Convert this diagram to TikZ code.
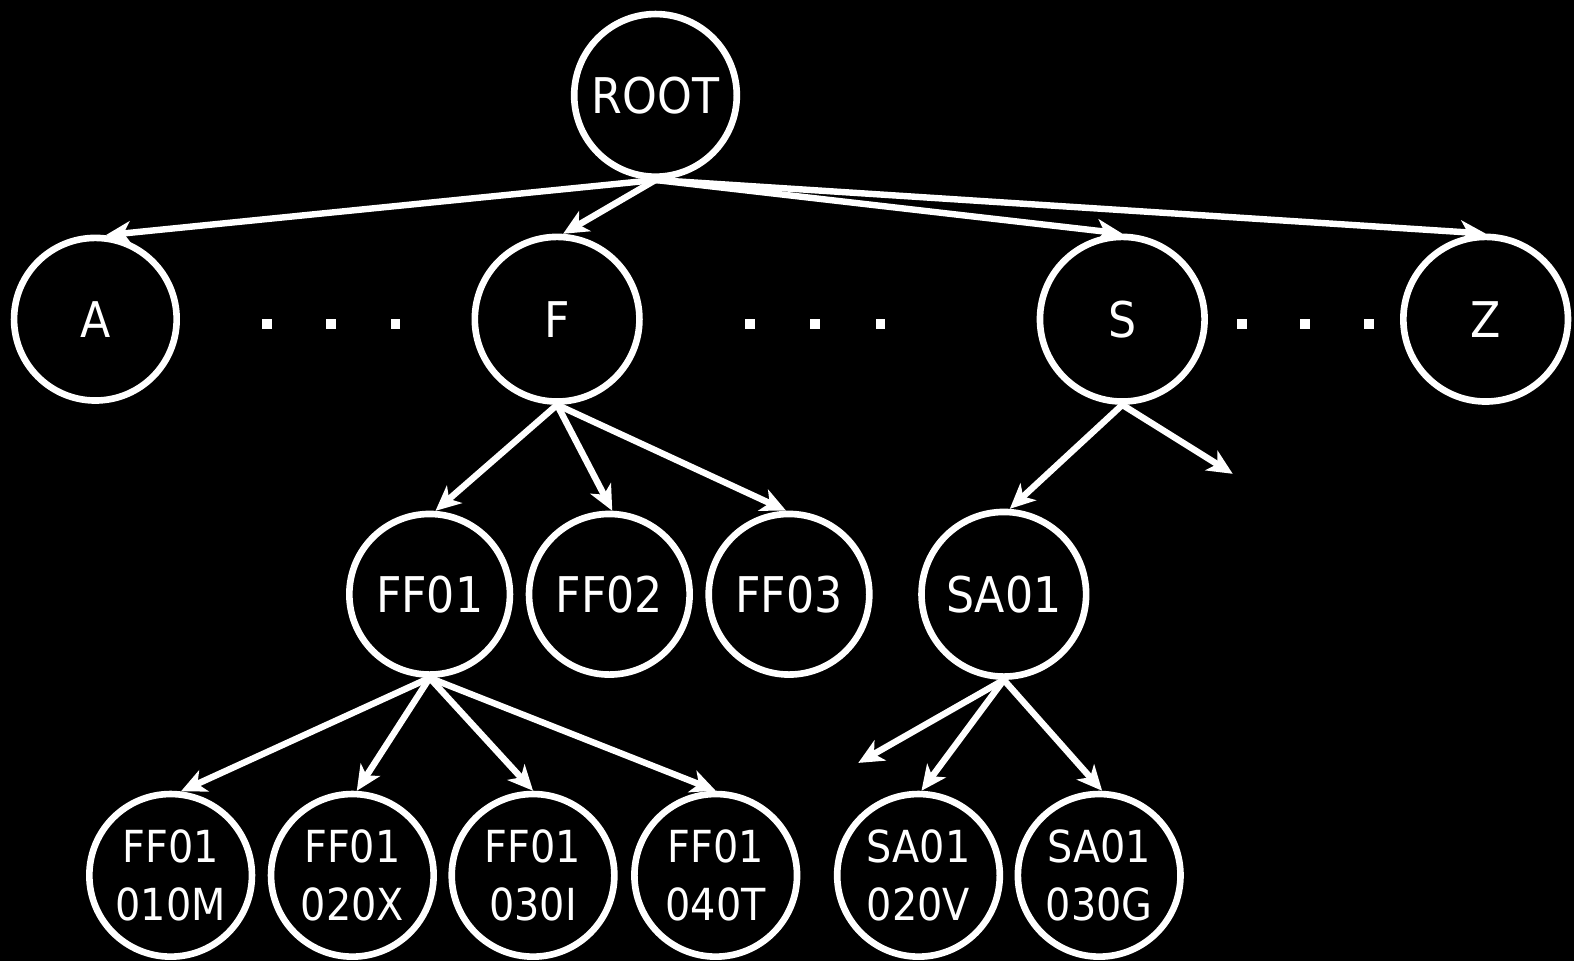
\documentclass[tikz,border=0pt]{standalone}
\usepackage{fontspec}
\setmainfont{DejaVu Sans}[FakeStretch=0.9]
\usetikzlibrary{arrows.meta}
\begin{document}
\begin{tikzpicture}[x=0.5pt,y=-0.5pt,
  bubble/.style={circle,draw=white,text=white,line width=3.3pt,minimum size=81pt,
    inner sep=0pt,font=\fontsize{24.5}{30}\selectfont},
  leaf/.style={bubble,font=\fontsize{22}{29}\selectfont,align=center},
  link/.style={draw=white,line width=3.2pt,-{Stealth[length=12.5pt,width=11.5pt,inset=3.5pt]}},
  gapdot/.style={fill=white,minimum size=4.8pt,inner sep=0pt}]

% canvas
\fill[black] (0,0) rectangle (1568,957);
\useasboundingbox (0,0) rectangle (1568,957);

% level 0
\node[bubble] (root) at (653,95) {ROOT};

% level 1
\node[bubble] (a) at (95,318) {A};
\node[bubble,minimum size=82pt] (f) at (555,318) {F};
\node[bubble,minimum size=82pt] (s) at (1118,318) {S};
\node[bubble,minimum size=82pt] (z) at (1480,318) {Z};

% ellipsis dots between level-1 nodes
\node[gapdot] (d1) at (266,323) {};
\node[gapdot] (d2) at (330,323) {};
\node[gapdot] (d3) at (394,323) {};
\node[gapdot] (d4) at (747,323) {};
\node[gapdot] (d5) at (812,323) {};
\node[gapdot] (d6) at (877,323) {};
\node[gapdot] (d7) at (1237,323) {};
\node[gapdot] (d8) at (1300,323) {};
\node[gapdot] (d9) at (1364,323) {};

% level 2
\node[bubble,minimum size=80pt] (ff01) at (428,592) {FF01};
\node[bubble,minimum size=80pt] (ff02) at (607,592) {FF02};
\node[bubble,minimum size=80pt] (ff03) at (786,592) {FF03};
\node[bubble,minimum size=82pt] (sa01) at (1000,592) {SA01};

% level 3
\node[leaf] (m) at (170,872) {FF01\\010M};
\node[leaf] (x) at (351,872) {FF01\\020X};
\node[leaf] (i) at (531,872) {FF01\\030I};
\node[leaf] (t) at (713,872) {FF01\\040T};
\node[leaf] (v) at (915,872) {SA01\\020V};
\node[leaf] (g) at (1095,872) {SA01\\030G};

% loose ends
\coordinate (sfree) at (1228,472);
\coordinate (safree) at (855,760);

% connectors
\draw[link] (root.south) -- (a.83);
\draw[link] (root.south) -- (f.86);
\draw[link] (root.south) -- (s.north);
\draw[link] (root.south) -- (z.north);

\draw[link] (f.south) -- (ff01.86);
\draw[link] (f.south) -- (ff02.88);
\draw[link] (f.south) -- (ff03.92);

\draw[link] (s.south) -- (sa01.86);
\draw[link] (s.south) -- (sfree);

\draw[link] (ff01.south) -- (m.83);
\draw[link] (ff01.south) -- (x.87);
\draw[link] (ff01.south) -- (i.north);
\draw[link] (ff01.south) -- (t.north);

\draw[link] (sa01.south) -- (safree);
\draw[link] (sa01.south) -- (v.88);
\draw[link] (sa01.south) -- (g.88);
\end{tikzpicture}
\end{document}
